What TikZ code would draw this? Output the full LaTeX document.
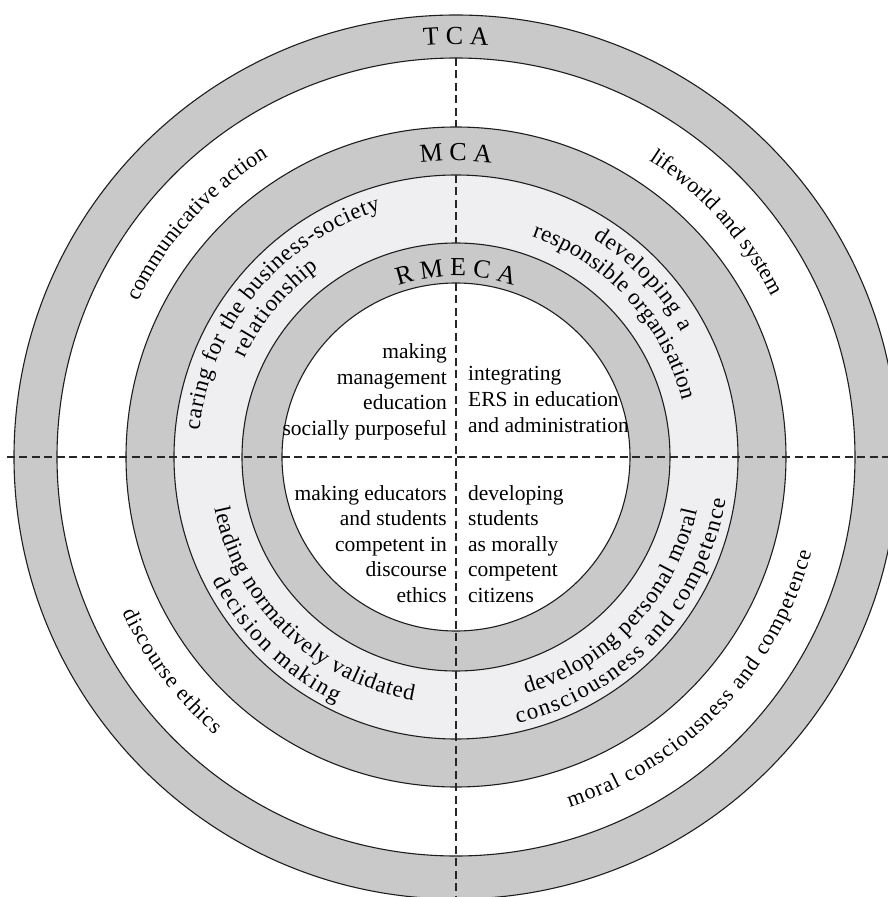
\documentclass[tikz,border=0pt]{standalone}
\usepackage{fontspec}
\setmainfont{Liberation Serif}
\newfontfamily\corefont{Liberation Serif}
\newfontfamily\arcfont{Liberation Serif}
\usetikzlibrary{decorations.text}
\definecolor{bandgray}{RGB}{201,201,201}
\definecolor{bandlight}{RGB}{239,238,241}
\definecolor{rimline}{RGB}{30,30,30}
\newcommand\ringtext{\arcfont\fontsize{22}{24}\selectfont}
\newcommand\bandtext{\arcfont\fontsize{23}{25}\selectfont}
\newcommand\labeltext{\arcfont\fontsize{26}{28}\selectfont}
\newcommand\coretext{\corefont\fontsize{21.5}{25.5}\selectfont}

\begin{document}
\begin{tikzpicture}[
  ring/.style={draw=rimline, line width=1.1pt},
  axis/.style={draw=black!85, line width=1.4pt, dash pattern=on 8pt off 4.5pt},
  curved/.style={decorate, decoration={text along path, text align={fit to path}, text={#1}}},
  core/.style={inner sep=0pt, font=\coretext}
]
\useasboundingbox (-456pt,-440pt) rectangle (432pt,457pt);
\fill[white] (-456pt,-440pt) rectangle (432pt,457pt);
\clip (-456pt,-440pt) rectangle (432pt,457pt);

% concentric rings, outside in
\filldraw[ring, fill=bandgray]  (0,0) circle[radius=442pt];
\filldraw[ring, fill=white]     (0,0) circle[radius=399pt];
\filldraw[ring, fill=bandgray]  (0,0) circle[radius=330pt];
\filldraw[ring, fill=bandlight] (0,0) circle[radius=282pt];
\filldraw[ring, fill=bandgray]  (0,0) circle[radius=214pt];
\filldraw[ring, fill=white]     (0,0) circle[radius=174pt];

% quadrant axes (the vertical one stops at the named bands on top)
\coordinate (hl) at (-449pt,0pt);
\coordinate (hr) at (432pt,0pt);
\coordinate (v1) at (0pt,399pt);
\coordinate (v2) at (0pt,330pt);
\coordinate (v3) at (0pt,282pt);
\coordinate (v4) at (0pt,214pt);
\coordinate (v5) at (0pt,174pt);
\coordinate (vb) at (0pt,-440pt);
\draw[axis] (hl) -- (hr);
\draw[axis] (v1) -- (v2);
\draw[axis] (v3) -- (v4);
\draw[axis] (v5) -- (vb);

% band names
\path[curved={|\labeltext|TCA}] (94.5:413pt) arc[start angle=94.5, end angle=85.5, radius=413pt];
\path[curved={|\labeltext|MCA}] (96.9:296pt) arc[start angle=96.9, end angle=83.1, radius=296pt];
\path[curved={|\labeltext|RMECA}] (108.6:181pt) arc[start angle=108.6, end angle=71.4, radius=181pt];

% outer white ring
\path[curved={|\ringtext|communicative action}] (154:354pt) arc[start angle=154, end angle=122, radius=354pt];
\path[curved={|\ringtext|lifeworld and system}] (57:354pt) arc[start angle=57, end angle=27, radius=354pt];
\path[curved={|\ringtext|discourse ethics}] (-155:368pt) arc[start angle=-155, end angle=-131, radius=368pt];
\path[curved={|\ringtext|moral consciousness and competence}] (-72:368pt) arc[start angle=-72, end angle=-15, radius=368pt];

% light band
\path[curved={|\bandtext|caring for the business-society}] (174:258pt) arc[start angle=174, end angle=107, radius=258pt];
\path[curved={|\bandtext|relationship}] (155:233pt) arc[start angle=155, end angle=126, radius=233pt];
\path[curved={|\bandtext|developing a}] (58:258pt) arc[start angle=58, end angle=29, radius=258pt];
\path[curved={|\bandtext|responsible organisation}] (71:233pt) arc[start angle=71, end angle=14, radius=233pt];
\path[curved={|\bandtext|leading normatively validated}] (-168:247pt) arc[start angle=-168, end angle=-100, radius=247pt];
\path[curved={|\bandtext|decision making}] (-153:273pt) arc[start angle=-153, end angle=-116, radius=273pt];
\path[curved={|\bandtext|developing personal moral}] (-73.5:247pt) arc[start angle=-73.5, end angle=-12.5, radius=247pt];
\path[curved={|\bandtext|consciousness and competence}] (-77:273pt) arc[start angle=-77, end angle=-9, radius=273pt];

% core quadrants
\node[core, anchor=base east] (qa) at (-9pt,22pt)
  {\begin{tabular}[b]{@{}r@{}}making\\management\\education\\socially purposeful\end{tabular}};
\node[core, anchor=base west] (qb) at (12pt,25pt)
  {\begin{tabular}[b]{@{}l@{}}integrating\\ERS in education\\and administration\end{tabular}};
\node[core, anchor=base east] (qc) at (-9pt,-43pt)
  {\begin{tabular}[t]{@{}r@{}}making educators\\and students\\competent in\\discourse\\ethics\end{tabular}};
\node[core, anchor=base west] (qd) at (12pt,-43pt)
  {\begin{tabular}[t]{@{}l@{}}developing\\students\\as morally\\competent\\citizens\end{tabular}};
\end{tikzpicture}
\end{document}
